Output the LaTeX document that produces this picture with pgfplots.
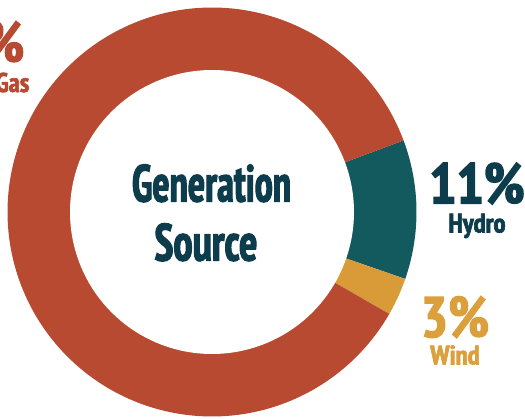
\documentclass[border=0pt]{standalone}
\usepackage{pgfplots}
\pgfplotsset{compat=1.18}
\usepackage{pgfplotstable}
\usepackage{fontspec}
\setmainfont{PT Sans Narrow}[BoldFeatures={FakeBold=2.5}]
\definecolor{gasc}{HTML}{B94A32}
\definecolor{hydroc}{HTML}{135A5F}
\definecolor{windc}{HTML}{D99A38}
\definecolor{darkt}{HTML}{0D3D4C}
\definecolor{windt}{HTML}{DBA03C}
\pgfplotstableread{
name value
Hydro 11
Wind 3
Gas 86
}\sharetable
\begin{document}
\begin{tikzpicture}
\useasboundingbox (0,0) rectangle (525pt,418pt);
\clip (0,0) rectangle (525pt,418pt);
\pgfplotstablegetelem{0}{value}\of\sharetable \let\vh\pgfplotsretval
\pgfplotstablegetelem{1}{value}\of\sharetable \let\vw\pgfplotsretval
\pgfplotstablegetelem{2}{value}\of\sharetable \let\vg\pgfplotsretval
\pgfmathsetmacro{\aA}{20.5}
\pgfmathsetmacro{\aB}{\aA-3.6*\vh}
\pgfmathsetmacro{\aC}{\aB-3.6*\vw}
\pgfmathsetmacro{\aD}{\aC-3.6*\vg}
\begin{axis}[at={(0,0)}, anchor=south west, x=1pt, y=1pt,
  xmin=-212, xmax=313, ymin=-206, ymax=212,
  hide axis, clip=false, scale only axis]
\addplot[fill=hydroc, draw=none, domain=\aB:\aA, samples=60] ({204.5*cos(x)},{204.5*sin(x)}) -- (axis cs:0,0) -- cycle;
\addplot[fill=windc, draw=none, domain=\aC:\aB, samples=20] ({204.5*cos(x)},{204.5*sin(x)}) -- (axis cs:0,0) -- cycle;
\addplot[fill=gasc, draw=none, domain=\aD:\aC, samples=200] ({204.5*cos(x)},{204.5*sin(x)}) -- (axis cs:0,0) -- cycle;
\addplot[fill=white, draw=none, domain=0:360, samples=200] ({142*cos(x)},{142*sin(x)}) -- cycle;
\node[anchor=base, inner sep=0, text=darkt, font=\bfseries\fontsize{52}{52}\selectfont] at (axis cs:-0.5,10.5) {\scalebox{0.78}[1]{Generation}};
\node[anchor=base, inner sep=0, text=darkt, font=\bfseries\fontsize{52}{52}\selectfont] at (axis cs:-6,-48.5) {\scalebox{0.83}[1]{Source}};
\node[anchor=base, inner sep=0, text=darkt, font=\bfseries\fontsize{57}{57}\selectfont] at (axis cs:265,8.5) {11\%};
\node[anchor=base, inner sep=0, text=darkt, font=\bfseries\fontsize{27}{27}\selectfont] at (axis cs:265,-20.5) {Hydro};
\node[anchor=base, inner sep=0, text=windt, font=\bfseries\fontsize{57}{57}\selectfont] at (axis cs:243,-125) {3\%};
\node[anchor=base, inner sep=0, text=windt, font=\bfseries\fontsize{27}{27}\selectfont] at (axis cs:243,-152.5) {Wind};
\node[anchor=base east, inner sep=0, text=gasc, font=\bfseries\fontsize{57}{57}\selectfont] at (axis cs:-187.5,150) {86\%};
\node[anchor=base east, inner sep=0, text=gasc, font=\bfseries\fontsize{27}{27}\selectfont] at (axis cs:-182.5,120) {Gas};
\end{axis}
\end{tikzpicture}
\end{document}
